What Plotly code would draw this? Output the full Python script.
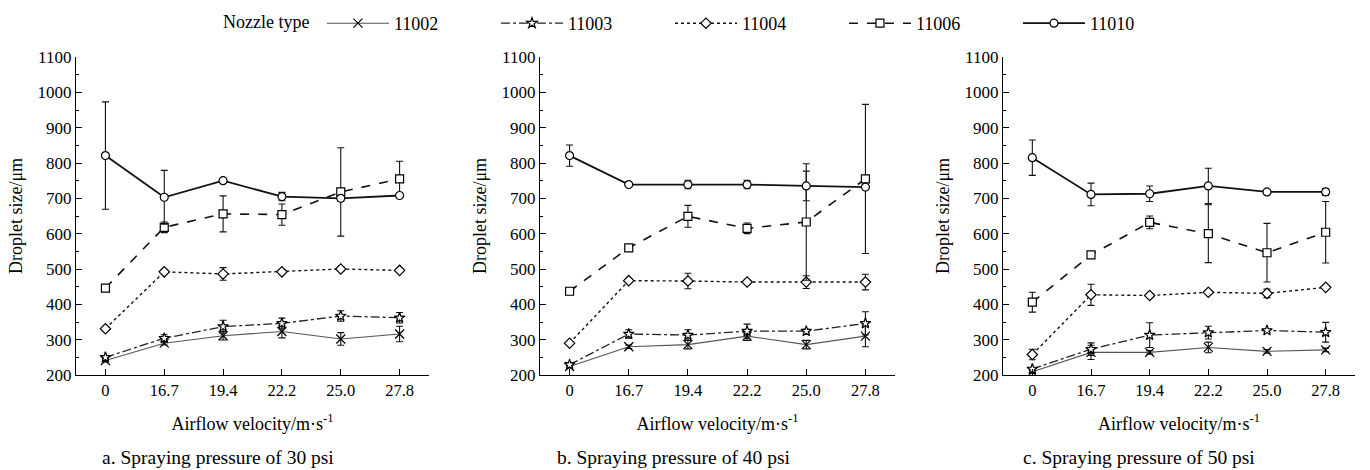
import plotly.graph_objects as go

velocity_labels = ["0", "16.7", "19.4", "22.2", "25.0", "27.8"]
nozzle_types = ["11002", "11003", "11004", "11006", "11010"]
panel_captions = ["a. Spraying pressure of 30 psi",
                  "b. Spraying pressure of 40 psi",
                  "c. Spraying pressure of 50 psi"]

# droplet size (um), rows follow nozzle_types
size_30psi = [
    [241, 290, 311, 323, 302, 316],
    [250, 304, 337, 346, 367, 362],
    [331, 492, 486, 492, 500, 496],
    [446, 618, 656, 654, 718, 755],
    [821, 703, 750, 705, 700, 708],
]
err_30psi = [
    [4, 5, 12, 18, 18, 22],
    [4, 10, 18, 15, 15, 15],
    [4, 5, 18, 5, 5, 5],
    [8, 15, 51, 30, 125, 50],
    [152, 76, 5, 12, 8, 5],
]
size_40psi = [
    [224, 280, 286, 310, 286, 310],
    [229, 316, 313, 324, 324, 346],
    [290, 467, 466, 463, 463, 463],
    [437, 560, 649, 615, 633, 755],
    [821, 739, 739, 739, 735, 732],
]
err_40psi = [
    [4, 5, 12, 12, 12, 30],
    [6, 12, 15, 20, 5, 33],
    [4, 5, 22, 5, 18, 22],
    [10, 5, 31, 15, 165, 211],
    [30, 4, 12, 12, 42, 5],
]
size_50psi = [
    [209, 264, 264, 278, 267, 271],
    [217, 273, 313, 320, 326, 321],
    [258, 427, 425, 434, 431, 448],
    [406, 540, 632, 600, 546, 604],
    [815, 711, 713, 735, 718, 718],
]
err_50psi = [
    [4, 20, 5, 15, 5, 5],
    [4, 18, 35, 18, 5, 28],
    [15, 30, 5, 5, 12, 5],
    [28, 8, 18, 82, 83, 87],
    [50, 32, 22, 50, 5, 10],
]

sizes = [size_30psi, size_40psi, size_50psi]
errors = [err_30psi, err_40psi, err_50psi]

symbols = ["x-thin", "star", "diamond", "square", "circle"]
dashes = ["solid", "dashdot", "dot", "dash", "solid"]
widths = [1.1, 1.3, 1.4, 1.6, 1.8]
line_colors = ["#555555", "#222222", "#111111", "#111111", "#111111"]

FONT = "'Liberation Serif', 'Times New Roman', Times, serif"
W, H = 1370, 470
x_domains = [(76, 429), (540, 895), (1003, 1355)]
y_top_px, y_bot_px = 57, 375
caption_left = [100, 555, 1021]

fig = go.Figure()
positions = list(range(len(velocity_labels)))

for p in range(3):
    xa = "x" if p == 0 else f"x{p+1}"
    ya = "y" if p == 0 else f"y{p+1}"
    for k, name in enumerate(nozzle_types):
        sym = symbols[k]
        marker = dict(symbol=sym, size=8 if sym != "x-thin" else 9,
                      color="white" if sym != "x-thin" else "black",
                      line=dict(color="black", width=1.2))
        fig.add_trace(go.Scatter(
            x=positions, y=sizes[p][k], name=name, legendgroup=name,
            showlegend=(p == 0), mode="lines+markers",
            line=dict(color=line_colors[k], width=widths[k], dash=dashes[k]),
            marker=marker,
            error_y=dict(type="data", array=errors[p][k], visible=True,
                         color="#111111", thickness=1.1, width=3.5),
            xaxis=xa, yaxis=ya,
        ))

layout = dict(
    width=W, height=H,
    margin=dict(l=0, r=0, t=0, b=0, autoexpand=False),
    paper_bgcolor="white", plot_bgcolor="white",
    font=dict(family=FONT, size=17, color="black"),
    showlegend=True,
    legend=dict(orientation="h", x=221 / W, xanchor="left",
                y=1 - 5 / H, yanchor="top",
                title=dict(text="Nozzle type ", font=dict(family=FONT, size=18), side="left"),
                font=dict(family=FONT, size=18),
                itemwidth=62, entrywidth=97, entrywidthmode="pixels",
                bgcolor="rgba(0,0,0,0)", traceorder="normal"),
    annotations=[],
)

for p in range(3):
    sx = "" if p == 0 else str(p + 1)
    x0, x1 = x_domains[p]
    layout[f"xaxis{sx}"] = dict(
        domain=[x0 / W, x1 / W],
        anchor=f"y{sx}",
        range=[-0.5, 5.5],
        tickvals=positions,
        ticktext=velocity_labels,
        ticks="inside", ticklen=6, tickwidth=1.2, tickcolor="black",
        showline=True, linecolor="black", linewidth=1.3,
        showgrid=False, zeroline=False,
        tickfont=dict(family=FONT, size=16.5),
        title=dict(text="Airflow velocity/m·s<sup>-1</sup>", standoff=18,
                   font=dict(family=FONT, size=18)),
    )
    layout[f"yaxis{sx}"] = dict(
        domain=[1 - y_bot_px / H, 1 - y_top_px / H],
        anchor=f"x{sx}",
        range=[200, 1100],
        dtick=100, tick0=200,
        ticks="inside", ticklen=6, tickwidth=1.2, tickcolor="black",
        minor=dict(dtick=50, ticks="inside", ticklen=3, tickwidth=1, tickcolor="black"),
        showline=True, linecolor="black", linewidth=1.3,
        showgrid=False, zeroline=False,
        tickfont=dict(family=FONT, size=17),
        title=dict(text="Droplet size/μm", standoff=10,
                   font=dict(family=FONT, size=18)),
    )
    layout["annotations"].append(dict(
        text=panel_captions[p], xref="paper", yref="paper",
        x=caption_left[p] / W, y=1 - 457 / H, xanchor="left", yanchor="middle",
        showarrow=False, font=dict(family=FONT, size=19.5, color="black"),
    ))

fig.update_layout(**layout)
fig.write_html("out.html",
               config={"displayModeBar": False},
               post_script="document.body.style.margin='0';document.body.style.overflow='hidden';")
